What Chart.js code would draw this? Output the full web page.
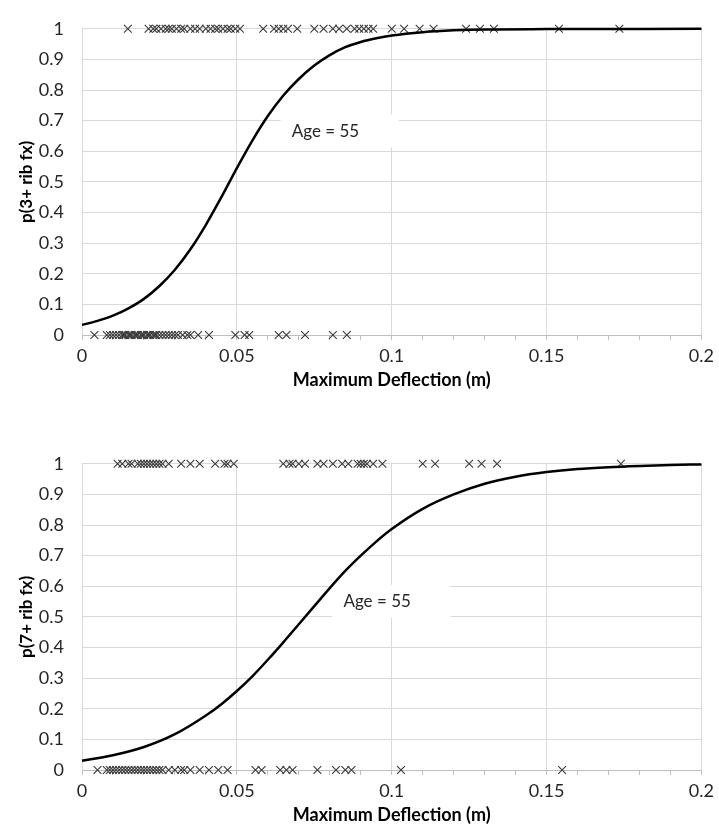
<!DOCTYPE html>
<html>
<head>
<meta charset="utf-8">
<script src="https://cdn.jsdelivr.net/npm/chart.js@4.4.1/dist/chart.umd.min.js"></script>
<style>
  body { margin: 0; background: #fff; }
  canvas { position: absolute; left: 0; }
</style>
</head>
<body>
<canvas id="chart1" width="719" height="395" style="top:0"></canvas>
<canvas id="chart2" width="719" height="395" style="top:435px"></canvas>
<script>
// curve sample points (deflection in m)
const curveX1 = [0, 0.005, 0.01, 0.015, 0.02, 0.025, 0.03, 0.035, 0.04, 0.045, 0.05, 0.055, 0.06, 0.065, 0.07, 0.075, 0.08, 0.085, 0.09, 0.095, 0.1, 0.11, 0.12, 0.13, 0.15, 0.2];
const curveP1 = [0.033, 0.046, 0.063, 0.087, 0.118, 0.16, 0.213, 0.28, 0.36, 0.45, 0.545, 0.635, 0.715, 0.782, 0.836, 0.88, 0.914, 0.94, 0.957, 0.969, 0.978, 0.989, 0.995, 0.998, 0.999, 1];

const curveX2 = [0, 0.01, 0.02, 0.03, 0.04, 0.045, 0.05, 0.055, 0.06, 0.065, 0.07, 0.075, 0.08, 0.085, 0.09, 0.095, 0.1, 0.11, 0.12, 0.13, 0.14, 0.15, 0.16, 0.17, 0.18, 0.19, 0.2];
const curveP2 = [0.03, 0.048, 0.075, 0.117, 0.178, 0.215, 0.258, 0.306, 0.36, 0.417, 0.476, 0.535, 0.594, 0.65, 0.7, 0.746, 0.787, 0.853, 0.9, 0.935, 0.958, 0.973, 0.983, 0.989, 0.993, 0.996, 0.998];

// observed cases: deflection of fractured (y=1) and non-fractured (y=0)
const obs1Yes = [0.0148, 0.0215, 0.023, 0.024, 0.0255, 0.027, 0.028, 0.029, 0.0305, 0.032, 0.033, 0.035, 0.0365, 0.038, 0.04, 0.0415, 0.043, 0.044, 0.0455, 0.047, 0.048, 0.0495, 0.051, 0.0585, 0.062, 0.0635, 0.065, 0.0665, 0.0695, 0.075, 0.078, 0.081, 0.083, 0.0855, 0.088, 0.0895, 0.091, 0.0925, 0.094, 0.1, 0.104, 0.109, 0.1135, 0.124, 0.1285, 0.133, 0.154, 0.1735];
const obs1No = [0.004, 0.008, 0.009, 0.01, 0.011, 0.012, 0.013, 0.0135, 0.014, 0.015, 0.0155, 0.016, 0.017, 0.0175, 0.018, 0.019, 0.0195, 0.02, 0.021, 0.0215, 0.022, 0.023, 0.0235, 0.024, 0.025, 0.026, 0.027, 0.028, 0.029, 0.03, 0.031, 0.0325, 0.034, 0.035, 0.0375, 0.041, 0.0495, 0.0525, 0.054, 0.0635, 0.066, 0.072, 0.081, 0.0855];

const obs2Yes = [0.0115, 0.013, 0.015, 0.016, 0.018, 0.019, 0.02, 0.021, 0.022, 0.023, 0.024, 0.025, 0.026, 0.028, 0.032, 0.035, 0.038, 0.043, 0.046, 0.047, 0.049, 0.065, 0.067, 0.068, 0.07, 0.072, 0.076, 0.078, 0.081, 0.084, 0.086, 0.089, 0.09, 0.091, 0.092, 0.094, 0.097, 0.11, 0.114, 0.125, 0.129, 0.134, 0.174];
const obs2No = [0.005, 0.008, 0.009, 0.01, 0.011, 0.012, 0.013, 0.014, 0.015, 0.016, 0.017, 0.018, 0.019, 0.02, 0.021, 0.022, 0.023, 0.024, 0.025, 0.026, 0.028, 0.03, 0.032, 0.033, 0.035, 0.038, 0.041, 0.044, 0.047, 0.056, 0.058, 0.064, 0.066, 0.068, 0.076, 0.082, 0.085, 0.087, 0.103, 0.155];

const FONT = "Lato";

// white box with "Age = 55" text
const ageLabel = {
  id: "ageLabel",
  beforeDatasetsDraw(chart, args, opts) {
    const { ctx, scales } = chart;
    const px = scales.x.getPixelForValue(opts.x);
    const py = scales.y.getPixelForValue(opts.y);
    ctx.save();
    ctx.fillStyle = "#fff";
    ctx.fillRect(px - 11, py - 17, 118, 33);
    ctx.fillStyle = "#262626";
    ctx.font = "17px " + FONT;
    ctx.textBaseline = "middle";
    ctx.fillText(opts.text, px, py);
    ctx.restore();
  }
};

function marks(xs, y) {
  return {
    data: xs.map(x => ({ x, y })),
    pointStyle: "crossRot",
    pointRadius: 5.5,
    pointBorderWidth: 1.1,
    pointBorderColor: "#3a3a3a",
    pointBackgroundColor: "rgba(0,0,0,0)",
    showLine: false,
    clip: false
  };
}

function makeChart(id, cx, cy, yes, no, yTitle, lab) {
  const ctx = document.getElementById(id).getContext("2d");
  return new Chart(ctx, {
    type: "scatter",
    data: {
      datasets: [
        {
          data: cx.map((x, i) => ({ x, y: cy[i] })),
          showLine: true,
          borderColor: "#000",
          borderWidth: 2.5,
          pointRadius: 0,
          cubicInterpolationMode: "monotone",
          clip: false
        },
        marks(yes, 1),
        marks(no, 0)
      ]
    },
    options: {
      responsive: false,
      animation: false,
      layout: { padding: { top: 16, right: 14, left: 0, bottom: 0 } },
      plugins: {
        legend: { display: false },
        tooltip: { enabled: false },
        ageLabel: lab
      },
      scales: {
        x: {
          type: "linear",
          min: 0,
          max: 0.2,
          afterFit: s => { s.height = 60; },
          ticks: {
            stepSize: 0.01,
            autoSkip: false,
            maxRotation: 0,
            padding: 5,
            color: "#262626",
            font: { family: FONT, size: 18 },
            callback: v => Math.round(v * 100) % 5 === 0 ? String(Math.round(v * 100) / 100) : ""
          },
          grid: {
            color: c => (c.tick && Math.round(c.tick.value * 100) % 5 === 0) ? "#d9d9d9" : "rgba(0,0,0,0)",
            tickColor: "#bfbfbf",
            tickLength: 5
          },
          border: { display: true, color: "#bfbfbf" },
          title: {
            display: true,
            text: "Maximum Deflection (m)",
            color: "#000",
            font: { family: FONT, size: 18, weight: "bold" },
            padding: { top: 0, bottom: 4 }
          }
        },
        y: {
          min: 0,
          max: 1,
          afterFit: s => { s.width = 82; },
          ticks: {
            stepSize: 0.1,
            padding: 18,
            color: "#262626",
            font: { family: FONT, size: 18 },
            callback: v => String(Math.round(v * 10) / 10)
          },
          grid: { color: "#d9d9d9", drawTicks: false },
          border: { display: false },
          title: {
            display: true,
            text: yTitle,
            color: "#000",
            font: { family: FONT, size: 17, weight: "bold" },
            padding: { top: 16, bottom: 0 }
          }
        }
      }
    },
    plugins: [ageLabel]
  });
}

makeChart("chart1", curveX1, curveP1, obs1Yes, obs1No, "p(3+ rib fx)", { x: 0.0677, y: 0.665, text: "Age = 55" });
makeChart("chart2", curveX2, curveP2, obs2Yes, obs2No, "p(7+ rib fx)", { x: 0.0844, y: 0.549, text: "Age = 55" });
</script>
</body>
</html>
